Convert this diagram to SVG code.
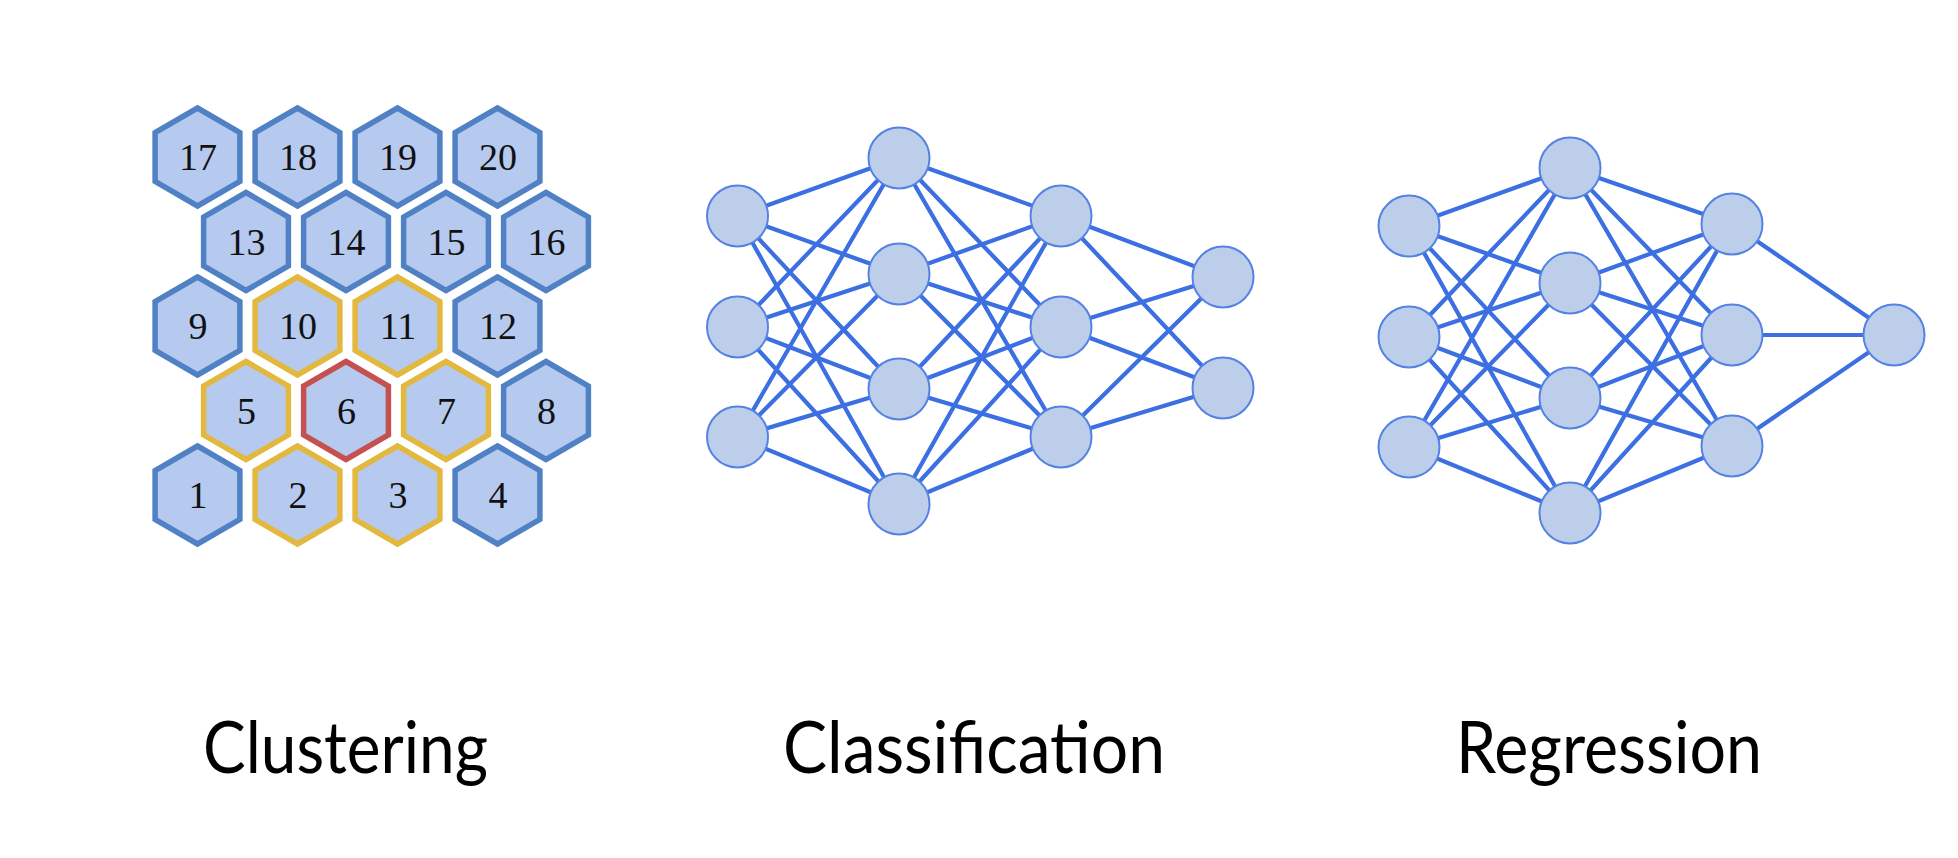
<svg xmlns="http://www.w3.org/2000/svg" xmlns:xlink="http://www.w3.org/1999/xlink" width="1958" height="858" viewBox="0 0 1958 858">
<style>
.hx{fill:#b6c9ee;stroke-width:5.5;stroke-linejoin:miter}
.b{stroke:#4f81c4}
.y{stroke:#e3b83e}
.r{stroke:#c4504f}
.num{font-family:"Liberation Serif","Times New Roman",serif;font-size:38px;fill:#111;text-anchor:middle}
.nd{fill:#bdceeb;stroke:#5583e3;stroke-width:2}
.cn line{stroke:#3b6fe2;stroke-width:4.2;stroke-linecap:round}
.lbl{font-family:Lato,"Noto Sans",sans-serif;font-size:72px;fill:#000}
</style>
<defs>
<path id="hex" d="M0,-49 L42.4,-24.5 L42.4,24.5 L0,49 L-42.4,24.5 L-42.4,-24.5 Z"/>
</defs>
<rect width="1958" height="858" fill="#fff"/>

<g id="clustering">
<g id="h17"><use href="#hex" x="197.5" y="157" class="hx b"/><text class="num" x="198" y="170">17</text></g>
<g id="h18"><use href="#hex" x="297.5" y="157" class="hx b"/><text class="num" x="298" y="170">18</text></g>
<g id="h19"><use href="#hex" x="397.5" y="157" class="hx b"/><text class="num" x="398" y="170">19</text></g>
<g id="h20"><use href="#hex" x="497.5" y="157" class="hx b"/><text class="num" x="498" y="170">20</text></g>
<g id="h13"><use href="#hex" x="246" y="241.5" class="hx b"/><text class="num" x="246.5" y="254.5">13</text></g>
<g id="h14"><use href="#hex" x="346" y="241.5" class="hx b"/><text class="num" x="346.5" y="254.5">14</text></g>
<g id="h15"><use href="#hex" x="446" y="241.5" class="hx b"/><text class="num" x="446.5" y="254.5">15</text></g>
<g id="h16"><use href="#hex" x="546" y="241.5" class="hx b"/><text class="num" x="546.5" y="254.5">16</text></g>
<g id="h9"><use href="#hex" x="197.5" y="326" class="hx b"/><text class="num" x="198" y="339">9</text></g>
<g id="h10"><use href="#hex" x="297.5" y="326" class="hx y"/><text class="num" x="298" y="339">10</text></g>
<g id="h11"><use href="#hex" x="397.5" y="326" class="hx y"/><text class="num" x="398" y="339">11</text></g>
<g id="h12"><use href="#hex" x="497.5" y="326" class="hx b"/><text class="num" x="498" y="339">12</text></g>
<g id="h5"><use href="#hex" x="246" y="410.5" class="hx y"/><text class="num" x="246.5" y="423.5">5</text></g>
<g id="h6"><use href="#hex" x="346" y="410.5" class="hx r"/><text class="num" x="346.5" y="423.5">6</text></g>
<g id="h7"><use href="#hex" x="446" y="410.5" class="hx y"/><text class="num" x="446.5" y="423.5">7</text></g>
<g id="h8"><use href="#hex" x="546" y="410.5" class="hx b"/><text class="num" x="546.5" y="423.5">8</text></g>
<g id="h1"><use href="#hex" x="197.5" y="495" class="hx b"/><text class="num" x="198" y="508">1</text></g>
<g id="h2"><use href="#hex" x="297.5" y="495" class="hx y"/><text class="num" x="298" y="508">2</text></g>
<g id="h3"><use href="#hex" x="397.5" y="495" class="hx y"/><text class="num" x="398" y="508">3</text></g>
<g id="h4"><use href="#hex" x="497.5" y="495" class="hx b"/><text class="num" x="498" y="508">4</text></g>
</g>

<g id="connectors" class="cn">
<!-- classification L1-L2 -->
<line x1="737.5" y1="216" x2="899" y2="158"/><line x1="737.5" y1="216" x2="899" y2="274"/><line x1="737.5" y1="216" x2="899" y2="389"/><line x1="737.5" y1="216" x2="899" y2="504"/>
<line x1="737.5" y1="327" x2="899" y2="158"/><line x1="737.5" y1="327" x2="899" y2="274"/><line x1="737.5" y1="327" x2="899" y2="389"/><line x1="737.5" y1="327" x2="899" y2="504"/>
<line x1="737.5" y1="437" x2="899" y2="158"/><line x1="737.5" y1="437" x2="899" y2="274"/><line x1="737.5" y1="437" x2="899" y2="389"/><line x1="737.5" y1="437" x2="899" y2="504"/>
<!-- classification L2-L3 -->
<line x1="899" y1="158" x2="1061" y2="216"/><line x1="899" y1="158" x2="1061" y2="327"/><line x1="899" y1="158" x2="1061" y2="437"/>
<line x1="899" y1="274" x2="1061" y2="216"/><line x1="899" y1="274" x2="1061" y2="327"/><line x1="899" y1="274" x2="1061" y2="437"/>
<line x1="899" y1="389" x2="1061" y2="216"/><line x1="899" y1="389" x2="1061" y2="327"/><line x1="899" y1="389" x2="1061" y2="437"/>
<line x1="899" y1="504" x2="1061" y2="216"/><line x1="899" y1="504" x2="1061" y2="327"/><line x1="899" y1="504" x2="1061" y2="437"/>
<!-- classification L3-L4 -->
<line x1="1061" y1="216" x2="1223" y2="277"/><line x1="1061" y1="216" x2="1223" y2="388"/>
<line x1="1061" y1="327" x2="1223" y2="277"/><line x1="1061" y1="327" x2="1223" y2="388"/>
<line x1="1061" y1="437" x2="1223" y2="277"/><line x1="1061" y1="437" x2="1223" y2="388"/>
<!-- regression L1-L2 -->
<line x1="1409" y1="226" x2="1570" y2="168"/><line x1="1409" y1="226" x2="1570" y2="283"/><line x1="1409" y1="226" x2="1570" y2="398"/><line x1="1409" y1="226" x2="1570" y2="513"/>
<line x1="1409" y1="337" x2="1570" y2="168"/><line x1="1409" y1="337" x2="1570" y2="283"/><line x1="1409" y1="337" x2="1570" y2="398"/><line x1="1409" y1="337" x2="1570" y2="513"/>
<line x1="1409" y1="447" x2="1570" y2="168"/><line x1="1409" y1="447" x2="1570" y2="283"/><line x1="1409" y1="447" x2="1570" y2="398"/><line x1="1409" y1="447" x2="1570" y2="513"/>
<!-- regression L2-L3 -->
<line x1="1570" y1="168" x2="1732" y2="224"/><line x1="1570" y1="168" x2="1732" y2="335"/><line x1="1570" y1="168" x2="1732" y2="446"/>
<line x1="1570" y1="283" x2="1732" y2="224"/><line x1="1570" y1="283" x2="1732" y2="335"/><line x1="1570" y1="283" x2="1732" y2="446"/>
<line x1="1570" y1="398" x2="1732" y2="224"/><line x1="1570" y1="398" x2="1732" y2="335"/><line x1="1570" y1="398" x2="1732" y2="446"/>
<line x1="1570" y1="513" x2="1732" y2="224"/><line x1="1570" y1="513" x2="1732" y2="335"/><line x1="1570" y1="513" x2="1732" y2="446"/>
<!-- regression L3-L4 -->
<line x1="1732" y1="224" x2="1894" y2="335"/><line x1="1732" y1="335" x2="1894" y2="335"/><line x1="1732" y1="446" x2="1894" y2="335"/>
</g>

<g id="classification">
<g id="c1a"><circle class="nd" cx="737.5" cy="216" r="30.5"/></g>
<g id="c1b"><circle class="nd" cx="737.5" cy="327" r="30.5"/></g>
<g id="c1c"><circle class="nd" cx="737.5" cy="437" r="30.5"/></g>
<g id="c2a"><circle class="nd" cx="899" cy="158" r="30.5"/></g>
<g id="c2b"><circle class="nd" cx="899" cy="274" r="30.5"/></g>
<g id="c2c"><circle class="nd" cx="899" cy="389" r="30.5"/></g>
<g id="c2d"><circle class="nd" cx="899" cy="504" r="30.5"/></g>
<g id="c3a"><circle class="nd" cx="1061" cy="216" r="30.5"/></g>
<g id="c3b"><circle class="nd" cx="1061" cy="327" r="30.5"/></g>
<g id="c3c"><circle class="nd" cx="1061" cy="437" r="30.5"/></g>
<g id="c4a"><circle class="nd" cx="1223" cy="277" r="30.5"/></g>
<g id="c4b"><circle class="nd" cx="1223" cy="388" r="30.5"/></g>
</g>

<g id="regression">
<g id="r1a"><circle class="nd" cx="1409" cy="226" r="30.5"/></g>
<g id="r1b"><circle class="nd" cx="1409" cy="337" r="30.5"/></g>
<g id="r1c"><circle class="nd" cx="1409" cy="447" r="30.5"/></g>
<g id="r2a"><circle class="nd" cx="1570" cy="168" r="30.5"/></g>
<g id="r2b"><circle class="nd" cx="1570" cy="283" r="30.5"/></g>
<g id="r2c"><circle class="nd" cx="1570" cy="398" r="30.5"/></g>
<g id="r2d"><circle class="nd" cx="1570" cy="513" r="30.5"/></g>
<g id="r3a"><circle class="nd" cx="1732" cy="224" r="30.5"/></g>
<g id="r3b"><circle class="nd" cx="1732" cy="335" r="30.5"/></g>
<g id="r3c"><circle class="nd" cx="1732" cy="446" r="30.5"/></g>
<g id="r4"><circle class="nd" cx="1894" cy="335" r="30.5"/></g>
</g>

<g id="labels">
<text class="lbl" x="203" y="773" textLength="285" lengthAdjust="spacingAndGlyphs">Clustering</text>
<text class="lbl" x="783" y="773" textLength="382" lengthAdjust="spacingAndGlyphs">Classification</text>
<text class="lbl" x="1456" y="773" textLength="306" lengthAdjust="spacingAndGlyphs">Regression</text>
</g>
</svg>
